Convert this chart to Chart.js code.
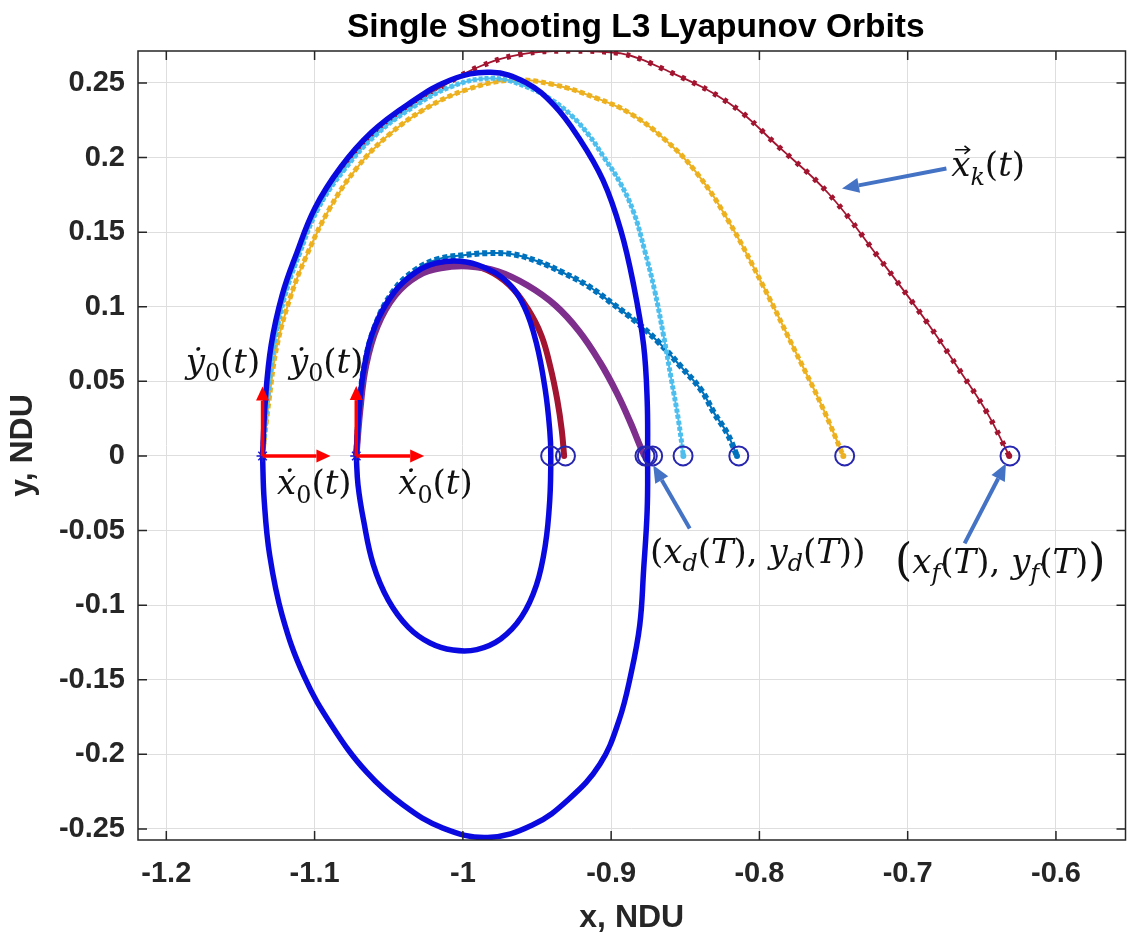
<!DOCTYPE html>
<html>
<head>
<meta charset="utf-8">
<title>Single Shooting L3 Lyapunov Orbits</title>
<script src="https://cdn.jsdelivr.net/npm/chart.js@4.4.1/dist/chart.umd.min.js"></script>
<style>
  html, body { margin: 0; padding: 0; background: #fff; }
  #wrap { width: 1137px; height: 938px; }
</style>
</head>
<body>
<div id="wrap"><canvas id="chart" width="1137" height="938"></canvas></div>
<script>
// axis ranges and ticks
const xMin = -1.2191, xMax = -0.5531;
const yMin = -0.2574, yMax = 0.2714;
const xTicks = [-1.2, -1.1, -1.0, -0.9, -0.8, -0.7, -0.6];
const xTickLabels = ['-1.2', '-1.1', '-1', '-0.9', '-0.8', '-0.7', '-0.6'];
const yTicks = [-0.25, -0.2, -0.15, -0.1, -0.05, 0, 0.05, 0.1, 0.15, 0.2, 0.25];
const yTickLabels = ['-0.25', '-0.2', '-0.15', '-0.1', '-0.05', '0', '0.05', '0.1', '0.15', '0.2', '0.25'];

// converged orbits (thick blue)
const bigOrbitX = [-1.1351, -1.1332, -1.1293, -1.1219, -1.1126, -1.0998, -1.0824, -1.0616, -1.0369, -1.0087, -0.9812, -0.9578, -0.9384, -0.9216,
                   -0.9055, -0.8935, -0.8848, -0.8781, -0.8757, -0.8754,
                   -0.8757, -0.8781, -0.8807, -0.8868, -0.8948, -0.9075, -0.9284, -0.9531, -0.9833, -1.0134, -1.0402, -1.0650, -1.0878,
                   -1.1072, -1.1219, -1.1303, -1.1340, -1.1351];
const bigOrbitY = [0, 0.0374, 0.0742, 0.1077, 0.1345, 0.1660, 0.1935, 0.2169, 0.2357, 0.2518, 0.2571, 0.2504, 0.2350, 0.2129,
                   0.1848, 0.1513, 0.1144, 0.0743, 0.0374, 0,
                   -0.0363, -0.0765, -0.1134, -0.1469, -0.1776, -0.2065, -0.2299, -0.2474, -0.2557, -0.2494, -0.2340, -0.2118, -0.1816,
                   -0.1474, -0.1067, -0.0665, -0.0296, 0];

const smallOrbitX = [-1.0719, -1.0700, -1.0663, -1.0590, -1.0462, -1.0315, -1.0181, -1.0020, -0.9859, -0.9699, -0.9585, -0.9504, -0.9444, -0.9414, -0.9407,
                     -0.9414, -0.9444, -0.9504, -0.9605, -0.9745, -0.9906, -1.0067, -1.0221, -1.0369, -1.0503, -1.0603, -1.0670, -1.0707, -1.0719];
const smallOrbitY = [0, 0.0307, 0.0608, 0.0876, 0.1099, 0.1233, 0.1292, 0.1305, 0.1265, 0.1164, 0.0997, 0.0756, 0.0441, 0.0173, 0,
                     -0.0296, -0.0598, -0.0866, -0.1080, -0.1227, -0.1298, -0.1301, -0.1254, -0.1147, -0.0966, -0.0732, -0.0430, -0.0196, 0];

// shooting iterations x_k(t)
const redSmallX = [-1.0719, -1.0697, -1.0657, -1.0583, -1.0462, -1.0315, -1.0154, -0.9993, -0.9833, -0.9685, -0.9565, -0.9471, -0.9410, -0.9363, -0.9333, -0.9317];
const redSmallY = [0, 0.0307, 0.0608, 0.0870, 0.1084, 0.1218, 0.1278, 0.1285, 0.1245, 0.1144, 0.0990, 0.0809, 0.0597, 0.0374, 0.0173, 0];

const purpleX = [-1.0719, -1.0693, -1.0653, -1.0576, -1.0456, -1.0308, -1.0148, -0.9967, -0.9766, -0.9565, -0.9377, -0.9216, -0.9075, -0.8961, -0.8868, -0.8807, -0.8774];
const purpleY = [0, 0.0307, 0.0608, 0.0870, 0.1077, 0.1205, 0.1259, 0.1272, 0.1238, 0.1144, 0.1010, 0.0836, 0.0628, 0.0421, 0.0220, 0.0072, 0];

const tealX = [-1.0719, -1.0700, -1.0663, -1.0590, -1.0469, -1.0322, -1.0168, -1.0000, -0.9833, -0.9665, -0.9498, -0.9330, -0.9163, -0.8995,
               -0.8828, -0.8680, -0.8539, -0.8392, -0.8305, -0.8218, -0.8151];
const tealY = [0, 0.0307, 0.0608, 0.0876, 0.1104, 0.1245, 0.1319, 0.1345, 0.1359, 0.1352, 0.1305, 0.1231, 0.1144, 0.1024,
               0.0896, 0.0762, 0.0609, 0.0441, 0.0287, 0.0153, 0];

const lightBlueX = [-1.1351, -1.1317, -1.1273, -1.1199, -1.1106, -1.0975, -1.0798, -1.0590, -1.0349, -1.0074, -0.9799, -0.9578, -0.9397, -0.9263,
                    -0.9149, -0.9049, -0.8941, -0.8848, -0.8774, -0.8707, -0.8647, -0.8593, -0.8546, -0.8513];
const lightBlueY = [0, 0.0374, 0.0742, 0.1077, 0.1345, 0.1660, 0.1921, 0.2149, 0.2330, 0.2477, 0.2531, 0.2477, 0.2384, 0.2277,
                    0.2149, 0.2002, 0.1834, 0.1633, 0.1378, 0.1111, 0.0809, 0.0508, 0.0240, 0];

const yellowX = [-1.1351, -1.1307, -1.1253, -1.1159, -1.1059, -1.0905, -1.0717, -1.0503, -1.0248, -0.9967, -0.9678, -0.9397, -0.9096,
                 -0.8874, -0.8647, -0.8426, -0.8204, -0.7977, -0.7755, -0.7581, -0.7434];
const yellowY = [0, 0.0374, 0.0742, 0.1077, 0.1332, 0.1647, 0.1928, 0.2149, 0.2330, 0.2457, 0.2518, 0.2491, 0.2397,
                 0.2297, 0.2129, 0.1901, 0.1567, 0.1144, 0.0695, 0.0340, 0];

const redLargeX = [-1.1351, -1.1323, -1.1280, -1.1206, -1.1112, -1.0982, -1.0807, -1.0600, -1.0355, -1.0114, -0.9899, -0.9611, -0.9276,
                   -0.8941, -0.8647, -0.8204, -0.7869, -0.7534, -0.7199, -0.6864, -0.6636, -0.6462, -0.6315];
const redLargeY = [0, 0.0374, 0.0742, 0.1077, 0.1345, 0.1660, 0.1928, 0.2156, 0.2344, 0.2491, 0.2605, 0.2692, 0.2715,
                   0.2699, 0.2593, 0.2364, 0.2071, 0.1759, 0.1334, 0.0888, 0.0553, 0.0285, 0];

// final states (x(T), y(T)) and initial states
const endX = [-0.9408, -0.9308, -0.8772, -0.8756, -0.8720, -0.8515, -0.8139, -0.7425, -0.6310];
const endY = [0, 0, 0, 0, 0, 0, 0, 0, 0];
const startX = [-1.1351, -1.0719];
const startY = [0, 0];

// velocity arrows [x1, y1, x2, y2] in data units
const velArrows = [
  [-1.1351, 0, -1.1351, 0.0465], [-1.1351, 0, -1.0893, 0],
  [-1.0719, 0, -1.0719, 0.0468], [-1.0719, 0, -1.0261, 0]
];
// pointer arrows [x1, y1, x2, y2]
const pointArrows = [
  [-0.6739, 0.1926, -0.7443, 0.1792],
  [-0.8470, -0.0486, -0.8716, -0.0062],
  [-0.6616, -0.0586, -0.6337, -0.0050]
];

const pts = (xs, ys) => xs.map((v, i) => ({ x: v, y: ys[i] }));

function orbitSet(xs, ys, order) {
  return { data: pts(xs, ys), showLine: true, borderColor: '#0a0ae0', borderWidth: 5.5,
           pointRadius: 0, tension: 0.4, order: order };
}
function trajSets(xs, ys, color, lineW, markW, dash, order) {
  const last = xs.length - 1;
  const sets = [{
    data: pts(xs, ys), showLine: true, borderColor: color, borderWidth: lineW, tension: 0.4, order: order,
    pointRadius: c => c.dataIndex === last ? 3 : 0, pointBackgroundColor: color, pointBorderWidth: 0
  }];
  if (markW) {
    sets.push({ data: pts(xs, ys), showLine: true, borderColor: color, borderWidth: markW, borderDash: dash,
                tension: 0.4, pointRadius: 0, order: order });
  }
  return sets;
}

// math-like labels: [text, kind]  i=italic, r=roman, s=subscript roman, si=subscript italic, v=italic with vector arrow, big=large paren
const mathLabels = [
  { x: -1.1869, y: 0.0558, parts: [['ẏ', 'i'], ['0', 's'], ['(', 'r'], ['t', 'i'], [')', 'r']] },
  { x: -1.1173, y: 0.0558, parts: [['ẏ', 'i'], ['0', 's'], ['(', 'r'], ['t', 'i'], [')', 'r']] },
  { x: -1.1253, y: -0.0256, parts: [['ẋ', 'i'], ['0', 's'], ['(', 'r'], ['t', 'i'], [')', 'r']] },
  { x: -1.0436, y: -0.0256, parts: [['ẋ', 'i'], ['0', 's'], ['(', 'r'], ['t', 'i'], [')', 'r']] },
  { x: -0.6706, y: 0.1874, parts: [['x', 'v'], ['k', 'si'], ['(', 'r'], ['t', 'i'], [')', 'r']] },
  { x: -0.8738, y: -0.0715, parts: [['(', 'r'], ['x', 'i'], ['d', 'si'], ['(', 'r'], ['T', 'i'], [')', 'r'], [', ', 'r'],
                                    ['y', 'i'], ['d', 'si'], ['(', 'r'], ['T', 'i'], [')', 'r'], [')', 'r']] },
  { x: -0.7085, y: -0.0782, parts: [['(', 'big'], ['x', 'i'], ['f', 'si'], ['(', 'r'], ['T', 'i'], [')', 'r'], [', ', 'r'],
                                    ['y', 'i'], ['f', 'si'], ['(', 'r'], ['T', 'i'], [')', 'r'], [')', 'big']] }
];

function drawArrow(ctx, x1, y1, x2, y2, color, w, head, headW) {
  const ang = Math.atan2(y2 - y1, x2 - x1);
  const bx = x2 - head * Math.cos(ang), by = y2 - head * Math.sin(ang);
  ctx.strokeStyle = color; ctx.lineWidth = w; ctx.lineCap = 'butt';
  ctx.beginPath(); ctx.moveTo(x1, y1); ctx.lineTo(bx, by); ctx.stroke();
  ctx.fillStyle = color;
  ctx.beginPath(); ctx.moveTo(x2, y2);
  ctx.lineTo(bx + headW / 2 * Math.sin(ang), by - headW / 2 * Math.cos(ang));
  ctx.lineTo(bx - headW / 2 * Math.sin(ang), by + headW / 2 * Math.cos(ang));
  ctx.closePath(); ctx.fill();
}

function drawMath(ctx, x, y, parts, size) {
  let cx = x;
  ctx.fillStyle = '#111';
  ctx.textAlign = 'left';
  ctx.textBaseline = 'alphabetic';
  for (const [txt, kind] of parts) {
    let fs = size, dy = 0, italic = false;
    if (kind === 'i' || kind === 'v' || kind === 'si') italic = true;
    if (kind === 's' || kind === 'si') { fs = size * 0.7; dy = size * 0.25; }
    if (kind === 'big') { fs = size * 1.3; dy = size * 0.08; }
    ctx.font = (italic ? 'italic ' : '') + fs + 'px "DejaVu Serif", serif';
    ctx.fillText(txt, cx, y + dy);
    const w = ctx.measureText(txt).width;
    if (kind === 'v') {
      const ay = y - size * 0.78, ax1 = cx + w * 0.2, ax2 = cx + w * 0.95;
      ctx.strokeStyle = '#111'; ctx.lineWidth = 1.6;
      ctx.beginPath(); ctx.moveTo(ax1, ay); ctx.lineTo(ax2, ay);
      ctx.moveTo(ax2 - 5, ay - 4); ctx.lineTo(ax2, ay); ctx.lineTo(ax2 - 5, ay + 4);
      ctx.stroke();
    }
    cx += w;
  }
}

const framePlugin = {
  id: 'frame',
  afterDatasetsDraw(chart) {
    const { ctx, chartArea: a, scales: { x, y } } = chart;
    ctx.save();
    ctx.strokeStyle = '#262626';
    ctx.lineWidth = 1.5;
    ctx.strokeRect(a.left, a.top, a.right - a.left, a.bottom - a.top);
    ctx.beginPath();
    xTicks.forEach(v => {
      const p = x.getPixelForValue(v);
      ctx.moveTo(p, a.bottom); ctx.lineTo(p, a.bottom - 9);
      ctx.moveTo(p, a.top); ctx.lineTo(p, a.top + 9);
    });
    yTicks.forEach(v => {
      const p = y.getPixelForValue(v);
      ctx.moveTo(a.left, p); ctx.lineTo(a.left + 9, p);
      ctx.moveTo(a.right, p); ctx.lineTo(a.right - 9, p);
    });
    ctx.stroke();
    ctx.restore();
  },
  afterDraw(chart) {
    const { ctx, chartArea: a, scales: { x, y } } = chart;
    ctx.save();
    // title
    ctx.fillStyle = '#000';
    ctx.font = 'bold 33.5px "Liberation Sans", Arial, sans-serif';
    ctx.textAlign = 'center';
    ctx.textBaseline = 'alphabetic';
    ctx.fillText('Single Shooting L3 Lyapunov Orbits', (a.left + a.right) / 2 + 4, 37);

    velArrows.forEach(([x1, y1, x2, y2]) => {
      drawArrow(ctx, x.getPixelForValue(x1), y.getPixelForValue(y1), x.getPixelForValue(x2), y.getPixelForValue(y2), '#ff0000', 3.5, 14, 13);
    });
    pointArrows.forEach(([x1, y1, x2, y2]) => {
      drawArrow(ctx, x.getPixelForValue(x1), y.getPixelForValue(y1), x.getPixelForValue(x2), y.getPixelForValue(y2), '#4472c4', 4, 17, 15);
    });
    mathLabels.forEach(l => drawMath(ctx, x.getPixelForValue(l.x), y.getPixelForValue(l.y), l.parts, 34));
    ctx.restore();
  }
};

const tickFont = { family: '"Liberation Sans", Arial, sans-serif', size: 29, weight: 'bold' };
const titleFont = { family: '"Liberation Sans", Arial, sans-serif', size: 32, weight: 'bold' };

const datasets = [
  { data: pts(endX, endY), showLine: false, pointRadius: 9.5, pointBorderWidth: 2,
    pointBorderColor: '#2626b0', pointBackgroundColor: 'rgba(0,0,0,0)', order: 0 },
  { data: pts(startX, startY), showLine: false, pointStyle: 'star', pointRadius: 6, pointBorderWidth: 1.5,
    pointBorderColor: '#1a1adb', order: 1 },
  orbitSet(bigOrbitX, bigOrbitY, 2),
  orbitSet(smallOrbitX, smallOrbitY, 2),
  ...trajSets(lightBlueX, lightBlueY, '#4dbeee', 2, 5, [4, 2], 3),
  ...trajSets(tealX, tealY, '#0072bd', 2, 6, [5, 3], 4),
  ...trajSets(yellowX, yellowY, '#edb120', 2, 5, [5, 3], 5),
  ...trajSets(redLargeX, redLargeY, '#a2142f', 1.8, 5.5, [4, 8], 6),
  ...trajSets(purpleX, purpleY, '#7e2f8e', 6.5, 0, null, 7),
  ...trajSets(redSmallX, redSmallY, '#a2142f', 6, 0, null, 8)
];

new Chart(document.getElementById('chart'), {
  type: 'scatter',
  data: { datasets: datasets },
  options: {
    responsive: false,
    animation: false,
    devicePixelRatio: 1,
    layout: { padding: { top: 51, right: 5, left: 0, bottom: 0 } },
    plugins: { legend: { display: false }, tooltip: { enabled: false }, title: { display: false } },
    scales: {
      x: {
        type: 'linear', position: 'bottom', min: xMin, max: xMax,
        afterFit(s) { s.height = 98; },
        afterBuildTicks(s) { s.ticks = xTicks.map(v => ({ value: v })); },
        ticks: { callback: (v, i) => xTickLabels[i], font: tickFont, color: '#262626', padding: 17, maxRotation: 0, autoSkip: false },
        grid: { color: '#dedede', lineWidth: 1, drawTicks: false },
        border: { display: false },
        title: { display: true, text: 'x, NDU', font: titleFont, color: '#262626', padding: { top: 0, bottom: 1 } }
      },
      y: {
        type: 'linear', position: 'left', min: yMin, max: yMax,
        afterFit(s) { s.width = 138; },
        afterBuildTicks(s) { s.ticks = yTicks.map(v => ({ value: v })); },
        ticks: { callback: (v, i) => yTickLabels[i], font: tickFont, color: '#262626', padding: 13, autoSkip: false },
        grid: { color: '#dedede', lineWidth: 1, drawTicks: false },
        border: { display: false },
        title: { display: true, text: 'y, NDU', font: titleFont, color: '#262626', padding: { top: 4, bottom: 0 } }
      }
    }
  },
  plugins: [framePlugin]
});
</script>
</body>
</html>
